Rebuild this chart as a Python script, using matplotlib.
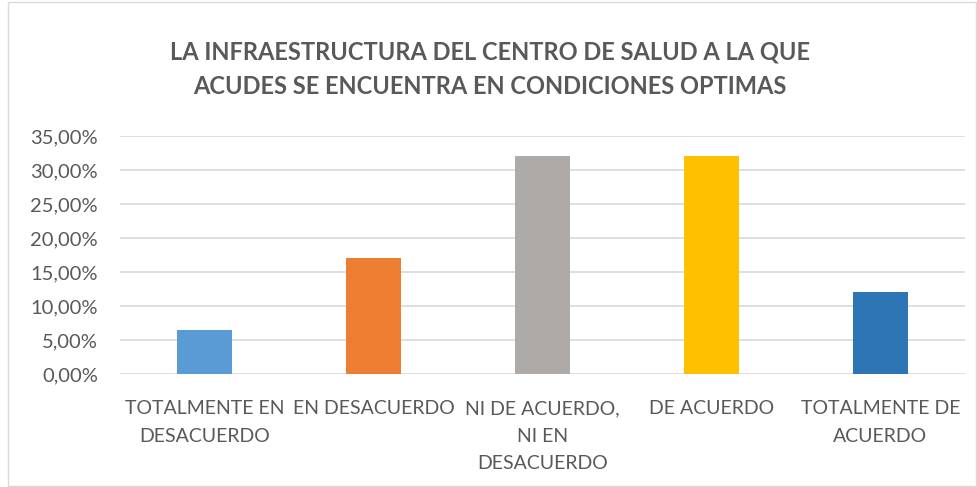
import matplotlib.pyplot as plt
from matplotlib.patches import Rectangle
from matplotlib.ticker import FuncFormatter

categories = ["TOTALMENTE EN\nDESACUERDO", "EN DESACUERDO", "NI DE ACUERDO,\nNI EN\nDESACUERDO",
              "DE ACUERDO", "TOTALMENTE DE\nACUERDO"]
values = [0.064, 0.171, 0.321, 0.321, 0.121]
colors = ["#5B9BD5", "#ED7D31", "#ADAAA8", "#FFC000", "#2E75B6"]
title = "LA INFRAESTRUCTURA DEL CENTRO DE SALUD A LA QUE\nACUDES SE ENCUENTRA EN CONDICIONES OPTIMAS"

plt.rcParams['font.family'] = ['Lato', 'DejaVu Sans']
grey = "#595959"

fig = plt.figure(figsize=(9.78, 4.87), dpi=100)
ax = fig.add_axes([120/978, 1 - 374/487, 845/978, 238/487])

x = range(len(categories))
ax.bar(x, values, width=0.32, color=colors, zorder=3)

ax.set_xlim(-0.5, len(categories) - 0.5)
ax.set_ylim(0, 0.35)
ax.set_yticks([i * 0.05 for i in range(8)])
ax.yaxis.set_major_formatter(FuncFormatter(lambda v, p: f"{v*100:.2f}%".replace(".", ",")))
ax.set_xticks(list(x))
ax.set_xticklabels(categories, linespacing=1.75, fontsize=14)
ax.tick_params(axis='both', length=0, colors=grey)
ax.tick_params(axis='y', pad=16, labelsize=14.5)
ax.tick_params(axis='x', pad=19)
ax.grid(axis='y', color="#D9D9D9", linewidth=1.2, zorder=0)
for s in ax.spines.values():
    s.set_visible(False)

fig.text(490/978, 1 - 69/487, title, ha='center', va='center', fontsize=17,
         fontweight='bold', color=grey, linespacing=1.6)

fig.patches.append(Rectangle((8/978, 0.002), 1 - 10/978, 0.994, transform=fig.transFigure,
                             fill=False, edgecolor="#D9D9D9", linewidth=1))

fig.savefig("out.png", dpi=100)
